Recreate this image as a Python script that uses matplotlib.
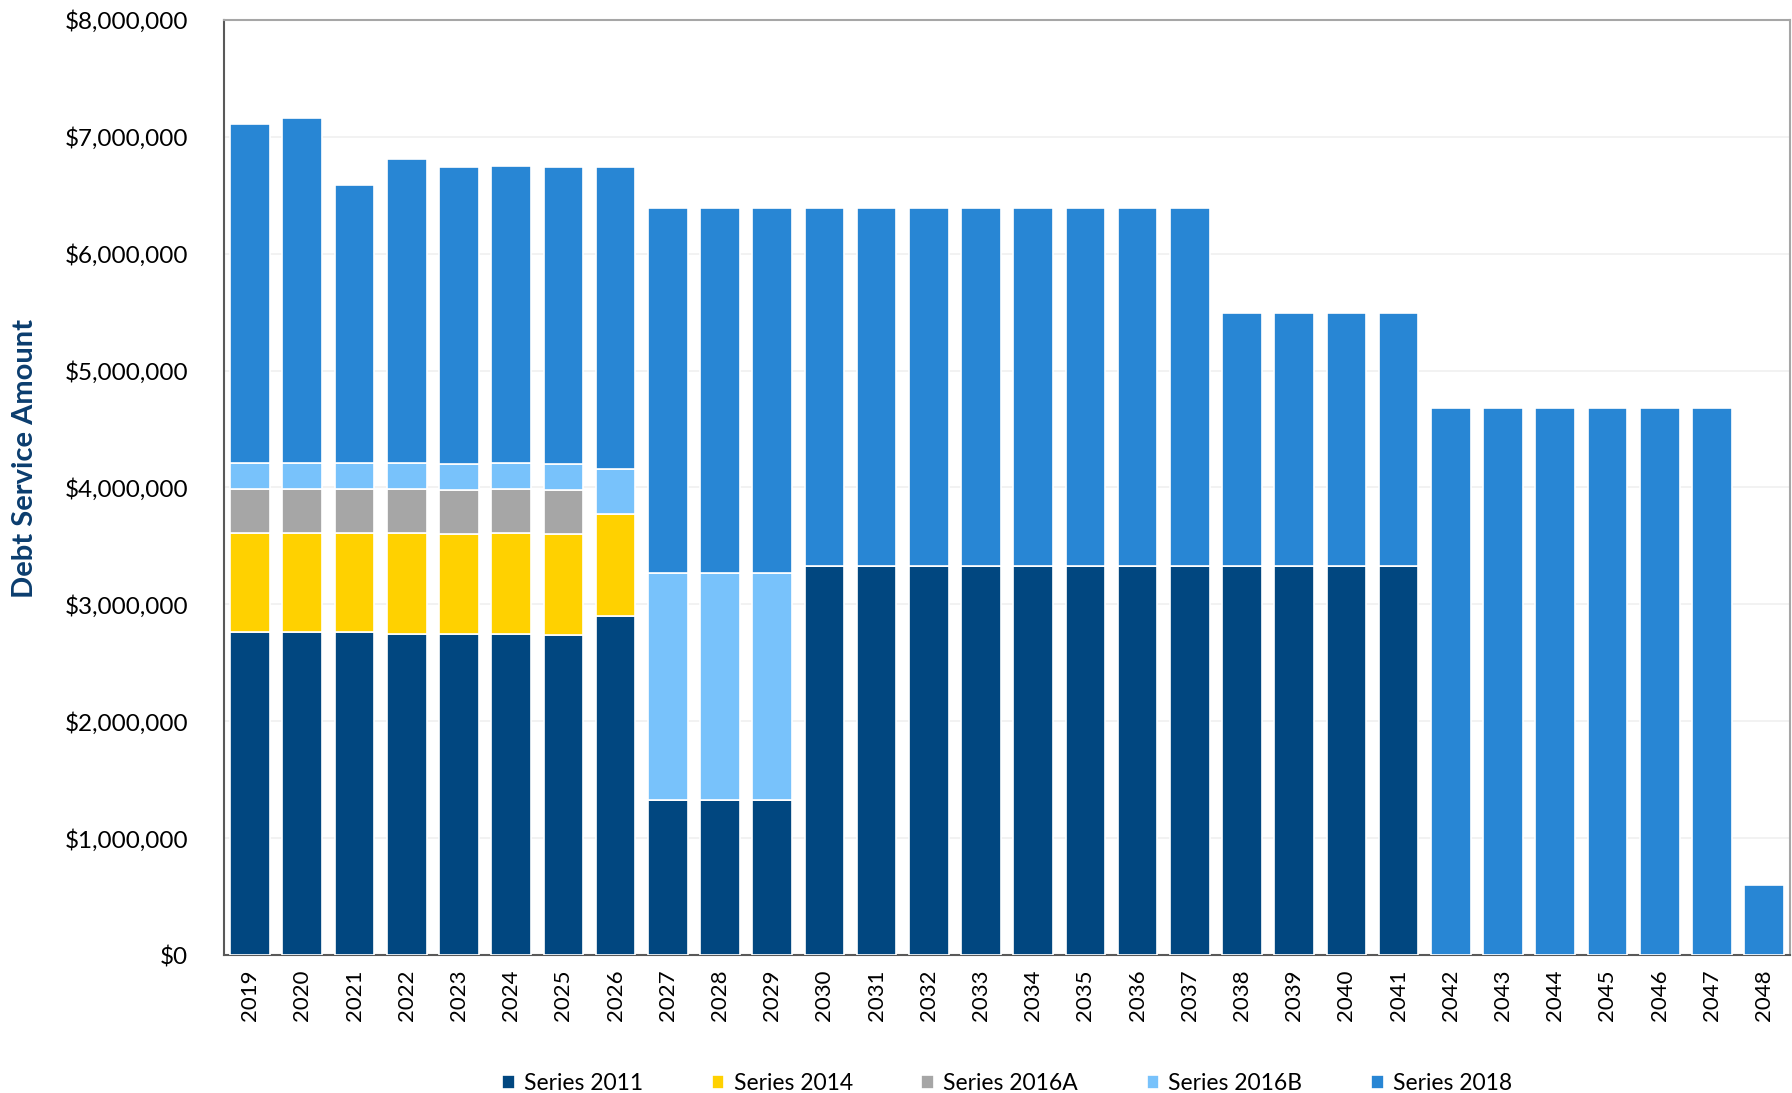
import numpy as np
import matplotlib
matplotlib.use('Agg')
import matplotlib.pyplot as plt
from matplotlib.ticker import FuncFormatter

plt.rcParams['font.family'] = ['Lato', 'DejaVu Sans']

years = [str(y) for y in range(2019, 2049)]

series_names = ['Series 2011', 'Series 2014', 'Series 2016A', 'Series 2016B', 'Series 2018']
series_colors = ['#014780', '#FFD100', '#A6A6A6', '#78C2FB', '#2886D4']

s2011 = [2760000, 2760000, 2760000, 2750000, 2750000, 2750000, 2740000, 2900000,
         1330000, 1330000, 1330000,
         3330000, 3330000, 3330000, 3330000, 3330000, 3330000, 3330000, 3330000,
         3330000, 3330000, 3330000, 3330000,
         0, 0, 0, 0, 0, 0, 0]
s2014 = [850000, 850000, 850000, 860000, 850000, 860000, 860000, 870000] + [0] * 22
s2016a = [380000, 380000, 380000, 380000, 380000, 380000, 380000, 0] + [0] * 22
s2016b = [220000, 220000, 220000, 220000, 220000, 220000, 220000, 390000,
          1940000, 1940000, 1940000] + [0] * 19
s2018 = [2900000, 2950000, 2380000, 2600000, 2540000, 2540000, 2540000, 2580000,
         3120000, 3120000, 3120000,
         3060000, 3060000, 3060000, 3060000, 3060000, 3060000, 3060000, 3060000,
         2160000, 2160000, 2160000, 2160000,
         4680000, 4680000, 4680000, 4680000, 4680000, 4680000, 600000]

fig = plt.figure(figsize=(17.92, 10.93), dpi=100)
ax = fig.add_axes([0.125, 0.126, 0.874, 0.856])

x = np.arange(len(years))
bottom = np.zeros(len(years))
for name, vals, col in zip(series_names, [s2011, s2014, s2016a, s2016b, s2018], series_colors):
    vals = np.array(vals, dtype=float)
    ax.bar(x, vals, 0.76, bottom=bottom, color=col, edgecolor='white', linewidth=1.2,
           label=name, zorder=3)
    bottom += vals

ax.set_xlim(-0.5, len(years) - 0.5)
ax.set_ylim(0, 8000000)
ax.set_yticks(np.arange(0, 8000001, 1000000))
ax.yaxis.set_major_formatter(FuncFormatter(lambda v, p: '${:,.0f}'.format(v)))
ax.set_xticks(x)
ax.set_xticklabels(years, rotation=90, fontsize=16)
ax.tick_params(axis='y', labelsize=17.5, length=0, pad=26)
ax.tick_params(axis='x', length=0, pad=10)
ax.grid(axis='y', color='#f0f0f0', linewidth=1.2, zorder=0)

for side in ['top', 'right']:
    ax.spines[side].set_color('#a6a6a6')
    ax.spines[side].set_linewidth(1.5)
for side in ['left', 'bottom']:
    ax.spines[side].set_color('#595959')
    ax.spines[side].set_linewidth(1.5)

ax.set_ylabel('Debt Service Amount', fontsize=21, fontweight='bold', color='#0B3D6E')
ax.yaxis.set_label_coords(-0.119, 0.531)

ax.legend(loc='center', bbox_to_anchor=(0.5, -0.137), ncol=5, frameon=False, fontsize=16.5,
          handlelength=0.55, handleheight=0.55, handletextpad=0.4, columnspacing=3.0)

fig.savefig('out.png', dpi=100)
